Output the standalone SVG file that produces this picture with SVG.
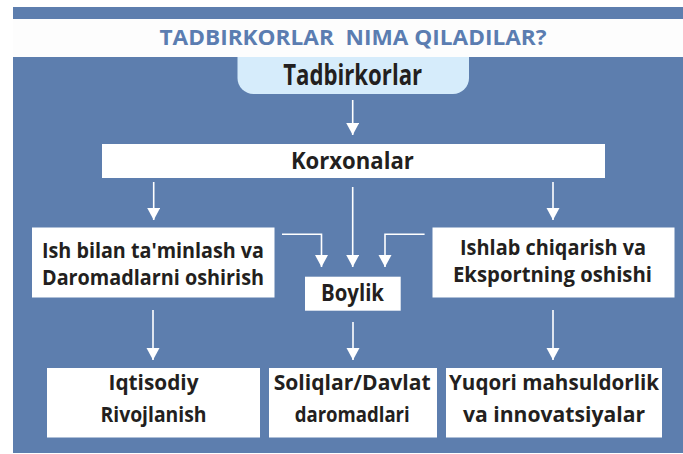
<svg xmlns="http://www.w3.org/2000/svg" width="683" height="454" viewBox="0 0 683 454">
<style>
.bx{fill:#ffffff}
.t{font-family:"Open Sans","Liberation Sans",sans-serif;font-weight:700;fill:#231f20;text-anchor:middle;font-size:22px}
.title{font-family:"Open Sans","Liberation Sans",sans-serif;font-weight:700;fill:#5b7db1;text-anchor:middle;font-size:22px;white-space:pre}
.c{fill:none;stroke:#ffffff;stroke-width:1.6}
</style>
<defs>
<marker id="ah" markerUnits="userSpaceOnUse" markerWidth="14" markerHeight="14" refX="12" refY="6.5" orient="auto">
<path d="M0,0 L12,6.5 L0,13 Z" fill="#ffffff"/>
</marker>
</defs>
<rect x="0" y="0" width="683" height="454" fill="#ffffff"/>
<rect x="13" y="7" width="670" height="446" fill="#5d7eae"/>
<rect x="13" y="19" width="670" height="38" fill="#fdfdfd"/>
<text class="title" x="353" y="45" textLength="387" lengthAdjust="spacingAndGlyphs">TADBIRKORLAR  NIMA QILADILAR?</text>

<g id="connectors">
<path class="c" d="M352.7,100 V135" marker-end="url(#ah)"/>
<path class="c" d="M153.7,182 V220" marker-end="url(#ah)"/>
<path class="c" d="M352.7,187 V267" marker-end="url(#ah)"/>
<path class="c" d="M553,182 V220" marker-end="url(#ah)"/>
<path class="c" d="M282,234.3 H321.5 V267" marker-end="url(#ah)"/>
<path class="c" d="M424.6,234.3 H385 V267" marker-end="url(#ah)"/>
<path class="c" d="M153,310 V360" marker-end="url(#ah)"/>
<path class="c" d="M353,322 V360" marker-end="url(#ah)"/>
<path class="c" d="M553,310 V360" marker-end="url(#ah)"/>
</g>

<g id="n-tadbirkorlar">
<path d="M237.5,57 H469 V78 A16,16 0 0 1 453,94 H253.5 A16,16 0 0 1 237.5,78 Z" fill="#d6ecfb"/>
<text class="t" x="352.7" y="85" textLength="139" lengthAdjust="spacingAndGlyphs" style="font-size:28px">Tadbirkorlar</text>
</g>

<g id="n-korxonalar">
<rect class="bx" x="102" y="144" width="503" height="34"/>
<text class="t" x="352.4" y="169" textLength="123" lengthAdjust="spacingAndGlyphs" style="font-size:23px">Korxonalar</text>
</g>

<g id="n-ish">
<rect class="bx" x="32" y="227.5" width="242.5" height="70"/>
<text class="t" x="153" y="257.5" textLength="222" lengthAdjust="spacingAndGlyphs">Ish bilan ta'minlash va</text>
<text class="t" x="153" y="285" textLength="222" lengthAdjust="spacingAndGlyphs">Daromadlarni oshirish</text>
</g>

<g id="n-ishlab">
<rect class="bx" x="432.5" y="227.5" width="242" height="70"/>
<text class="t" x="553" y="255" textLength="186" lengthAdjust="spacingAndGlyphs">Ishlab chiqarish va</text>
<text class="t" x="552.5" y="282" textLength="199" lengthAdjust="spacingAndGlyphs">Eksportning oshishi</text>
</g>

<g id="n-boylik">
<rect class="bx" x="305" y="276.7" width="95.7" height="34"/>
<text class="t" x="352.5" y="300.5" textLength="63" lengthAdjust="spacingAndGlyphs" style="font-size:23px">Boylik</text>
</g>

<g id="n-iqtisodiy">
<rect class="bx" x="47" y="368" width="213" height="69.5"/>
<text class="t" x="153.5" y="389.5" textLength="90" lengthAdjust="spacingAndGlyphs">Iqtisodiy</text>
<text class="t" x="153.5" y="422" textLength="106" lengthAdjust="spacingAndGlyphs">Rivojlanish</text>
</g>

<g id="n-soliqlar">
<rect class="bx" x="269" y="368" width="168" height="69.5"/>
<text class="t" x="352.2" y="389.5" textLength="157" lengthAdjust="spacingAndGlyphs">Soliqlar/Davlat</text>
<text class="t" x="352.2" y="422" textLength="115" lengthAdjust="spacingAndGlyphs">daromadlari</text>
</g>

<g id="n-yuqori">
<rect class="bx" x="446" y="368" width="216" height="69.5"/>
<text class="t" x="554" y="389.5" textLength="210" lengthAdjust="spacingAndGlyphs">Yuqori mahsuldorlik</text>
<text class="t" x="554" y="422" textLength="182" lengthAdjust="spacingAndGlyphs">va innovatsiyalar</text>
</g>
</svg>
